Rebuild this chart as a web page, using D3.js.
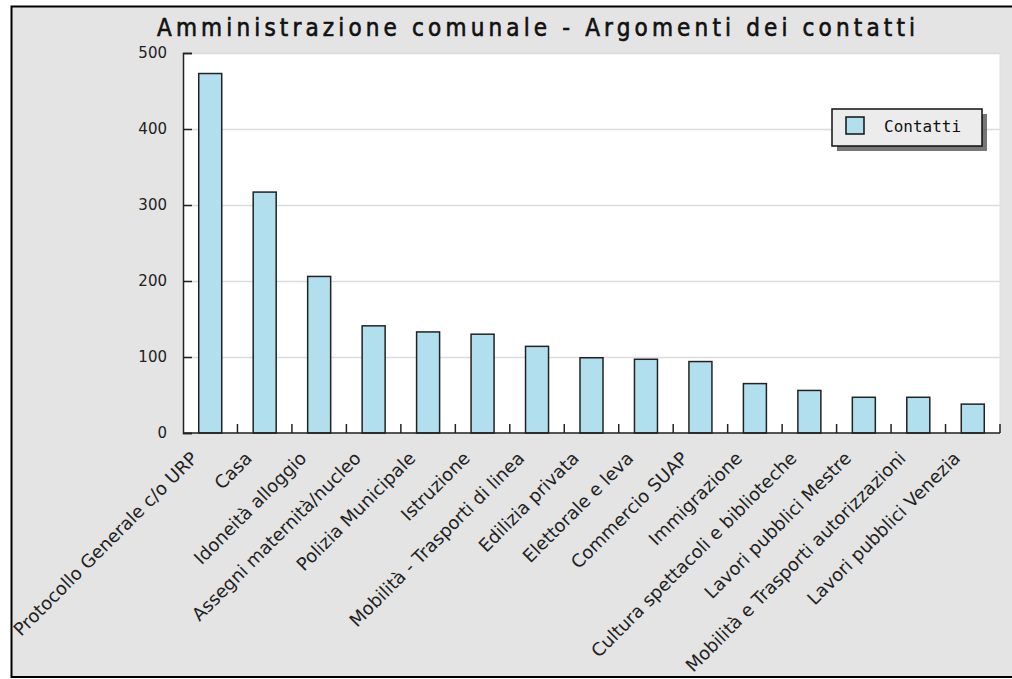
<!DOCTYPE html>
<html>
<head>
<meta charset="utf-8">
<script src="https://cdn.jsdelivr.net/npm/d3@7"></script>
<style>
  body { margin: 0; background: #fff; }
  svg { display: block; }
</style>
</head>
<body>
<div id="chart"></div>
<script>
var categories = [
    "Protocollo Generale c/o URP", "Casa", "Idoneità alloggio", "Assegni maternità/nucleo",
    "Polizia Municipale", "Istruzione", "Mobilità - Trasporti di linea", "Edilizia privata",
    "Elettorale e leva", "Commercio SUAP", "Immigrazione", "Cultura spettacoli e biblioteche",
    "Lavori pubblici Mestre", "Mobilità e  Trasporti autorizzazioni", "Lavori pubblici Venezia"
];
var contatti = [473, 317, 206, 141, 133, 130, 114, 99, 97, 94, 65, 56, 47, 47, 38];
var yTicks = [0, 100, 200, 300, 400, 500];
var seriesName = "Contatti";
var chartTitle = "Amministrazione comunale - Argomenti dei contatti";

var width = 1012, height = 679;
var plot = { left: 183, right: 1000, top: 53, bottom: 433 };

let svg = d3.select("#chart")
    .append("svg")
    .attr("width", width)
    .attr("height", height);

// background + outer frame
svg.append("rect")
    .attr("x", 11.5).attr("y", 6.5)
    .attr("width", width + 10).attr("height", 677 - 6.5)
    .attr("fill", "#e4e4e4")
    .attr("stroke", "#000")
    .attr("stroke-width", 2);

let x = d3.scaleBand()
    .domain(categories)
    .range([plot.left, plot.right]);

let y = d3.scaleLinear()
    .domain([0, 500])
    .range([plot.bottom, plot.top]);

// plot area
svg.append("rect")
    .attr("x", plot.left).attr("y", plot.top)
    .attr("width", plot.right - plot.left).attr("height", plot.bottom - plot.top)
    .attr("fill", "#fff")
    .attr("stroke", "#e0e0e0");

// grid lines
svg.append("g")
    .selectAll("line")
    .data(yTicks.filter(d => d > 0))
    .enter().append("line")
    .attr("x1", plot.left).attr("x2", plot.right)
    .attr("y1", d => Math.round(y(d)) + 0.5)
    .attr("y2", d => Math.round(y(d)) + 0.5)
    .attr("stroke", "#dcdcdc")
    .attr("stroke-width", 1.5);

// title
svg.append("text")
    .attr("x", 536).attr("y", 36)
    .attr("text-anchor", "middle")
    .attr("font-family", "DejaVu Sans Condensed")
    .attr("font-size", 24)
    .attr("textLength", 758)
    .attr("lengthAdjust", "spacing")
    .attr("fill", "#111")
    .attr("stroke", "#111")
    .attr("stroke-width", 0.6)
    .text(chartTitle);

// bars
let barW = 23;
svg.append("g")
    .selectAll("rect")
    .data(contatti)
    .enter().append("rect")
    .attr("x", (d, i) => x(categories[i]) + x.bandwidth() / 2 - barW / 2)
    .attr("y", d => y(d))
    .attr("width", barW)
    .attr("height", d => plot.bottom - y(d))
    .attr("fill", "#b2dfed")
    .attr("stroke", "#222")
    .attr("stroke-width", 1.5);

// y axis, ticks pointing inward
let yAxis = d3.axisLeft(y)
    .tickValues(yTicks)
    .tickSize(-9)
    .tickPadding(16);
let yg = svg.append("g")
    .attr("transform", `translate(${plot.left},0)`)
    .call(yAxis);
yg.select(".domain").attr("stroke", "#222").attr("stroke-width", 1.5);
yg.selectAll(".tick line").attr("stroke", "#222").attr("stroke-width", 1.5);
yg.selectAll(".tick text")
    .attr("font-family", "DejaVu Sans")
    .attr("font-size", 15)
    .attr("fill", "#222");

// x axis line and boundary ticks
let xg = svg.append("g");
xg.append("line")
    .attr("x1", plot.left).attr("x2", plot.right)
    .attr("y1", plot.bottom).attr("y2", plot.bottom)
    .attr("stroke", "#222").attr("stroke-width", 1.5);
xg.selectAll("line.tick")
    .data(categories)
    .enter().append("line")
    .attr("class", "tick")
    .attr("x1", d => x(d) + x.bandwidth())
    .attr("x2", d => x(d) + x.bandwidth())
    .attr("y1", plot.bottom)
    .attr("y2", plot.bottom - 9)
    .attr("stroke", "#222").attr("stroke-width", 1.5);

// rotated category labels
xg.selectAll("text")
    .data(categories)
    .enter().append("text")
    .attr("transform", d => `translate(${x(d) + x.bandwidth() / 2 - 16},${plot.bottom + 22}) rotate(-45)`)
    .attr("text-anchor", "end")
    .attr("dy", "0.35em")
    .attr("font-family", "DejaVu Sans")
    .attr("font-size", 18)
    .attr("fill", "#222")
    .text(d => d);

// legend
let legend = svg.append("g").attr("transform", "translate(832,109)");
legend.append("rect")
    .attr("x", 5).attr("y", 5)
    .attr("width", 150).attr("height", 37)
    .attr("fill", "#555")
    .attr("opacity", 0.8);
legend.append("rect")
    .attr("width", 150).attr("height", 37)
    .attr("fill", "#ececec")
    .attr("stroke", "#111")
    .attr("stroke-width", 1.5);
legend.append("rect")
    .attr("x", 14).attr("y", 8)
    .attr("width", 18).attr("height", 17)
    .attr("fill", "#b2dfed")
    .attr("stroke", "#111")
    .attr("stroke-width", 1.5);
legend.append("text")
    .attr("x", 52).attr("y", 23)
    .attr("font-family", "DejaVu Sans Mono")
    .attr("font-size", 16)
    .attr("fill", "#111")
    .text(seriesName);
</script>
</body>
</html>
